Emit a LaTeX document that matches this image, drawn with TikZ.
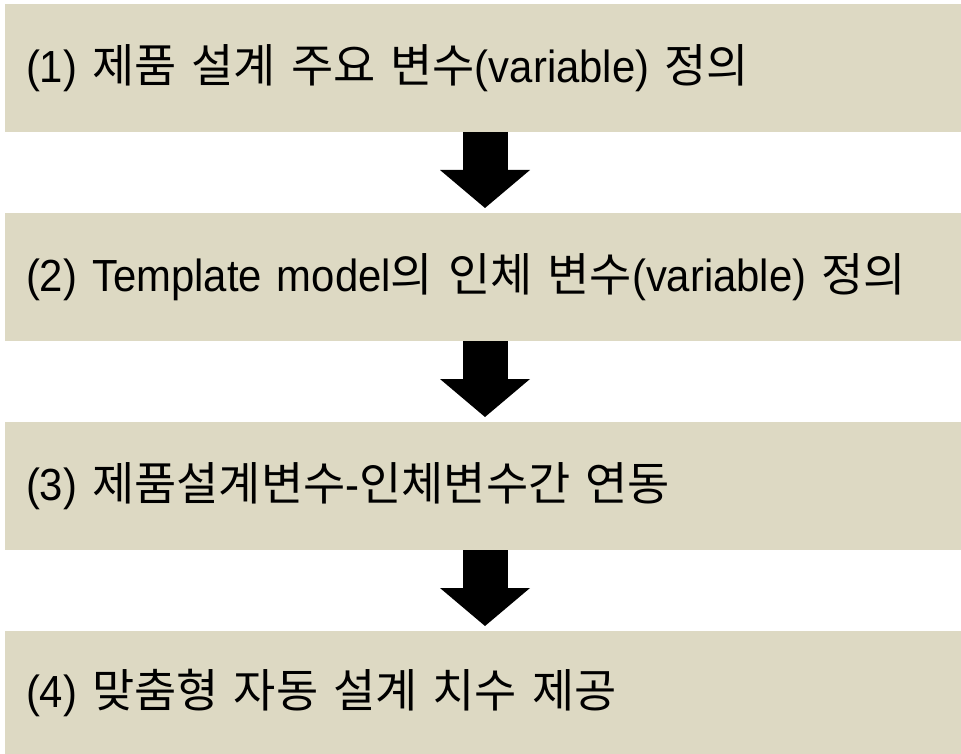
\documentclass[tikz,border=0pt]{standalone}
\usepackage{fontspec}
\setmainfont[FakeStretch=0.93]{Liberation Sans}
\newfontfamily\kr[Scale=1.02,WordSpace=0.7]{Noto Sans CJK KR}
\newcommand{\ko}[1]{{\kr #1}}
\usetikzlibrary{arrows.meta}
\definecolor{tan}{HTML}{DDD9C3}
\begin{document}
\begin{tikzpicture}[x=1pt,y=-1pt,
	stage/.style={fill=tan,minimum width=956pt,minimum height=128pt,text width=914pt,
		inner xsep=21pt,inner ysep=0pt,outer sep=0pt,align=left,
		font=\fontsize{45}{52}\selectfont},
	flow/.style={line width=45pt,-{Triangle[length=38pt,width=90pt,line width=0pt]},shorten >=5pt}]
	\useasboundingbox (0,0) rectangle (961,754);
	\node[stage] (s1) at (483,68) {(1) \ko{제품 설계 주요 변수}(variable) \ko{정의}};
	\node[stage] (s2) at (483,277) {(2) Template model\ko{의 인체 변수}(variable) \ko{정의}};
	\node[stage] (s3) at (483,486) {(3) \ko{제품설계변수}-\ko{인체변수간 연동}};
	\node[stage,minimum height=123pt] (s4) at (483,692.5) {(4) \ko{맞춤형 자동 설계 치수 제공}};
	\foreach \a/\b in {s1/s2,s2/s3,s3/s4}{
		\draw[flow] ([xshift=2pt]\a.south) -- ([xshift=2pt]\b.north);
	}
\end{tikzpicture}
\end{document}
